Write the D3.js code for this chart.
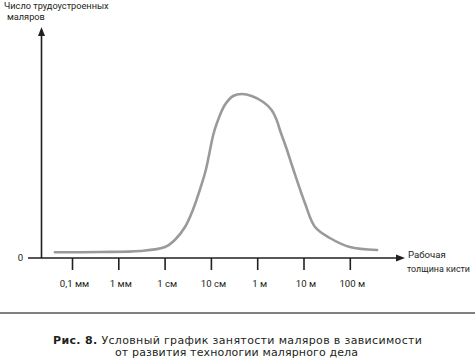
<!DOCTYPE html>
<html><head><meta charset="utf-8">
<script src="https://cdn.jsdelivr.net/npm/d3@7"></script>
<style>
html,body{margin:0;padding:0;background:#fff;}
svg{display:block;}
text{font-family:Roboto,"Open Sans",sans-serif;fill:#231f20;}
</style></head>
<body>
<svg id="c" width="475" height="361"></svg>
<script>
// Brush thickness, log10 of metres
const tickValues = [-4, -3, -2, -1, 0, 1, 2];
const tickLabels = ["0,1 мм", "1 мм", "1 см", "10 см", "1 м", "10 м", "100 м"];
// Curve: x = log10(thickness in m), y = employed painters (arbitrary units)
const curveX = [-4.37, -3.40, -2.53, -1.99, -1.78, -1.56, -1.39, -1.24, -1.11, -0.95, -0.87, -0.70, -0.52, -0.33, -0.12, 0.13, 0.31, 0.42, 0.49, 0.64, 0.77, 1.03, 1.25, 1.57, 2.00, 2.59];
const curveY = [5.7, 6, 7, 11, 18, 31, 48, 68, 88, 123, 135, 153, 162, 164, 162, 156, 148, 138, 128, 108.5, 90, 55, 31, 20, 11, 8];
const yTitle = ["Число трудоустроенных", "маляров"];
const xTitle = ["Рабочая", "толщина кисти"];
const zeroLabel = "0";
const captionBold = "Рис. 8.";
const captionRest = " Условный график занятости маляров в зависимости";
const captionLine2 = "от развития технологии малярного дела";

const svg = d3.select("#c");
const x = d3.scaleLinear().domain([-4, 2]).range([72, 349.8]);
const y = d3.scaleLinear().domain([0, 230]).range([258, 28]);

const ink = "#231f20";
const fs = "9.6px";

// y axis line with arrow
svg.append("line").attr("x1", 41.5).attr("x2", 41.5).attr("y1", y(0)).attr("y2", 34)
  .attr("stroke", ink).attr("stroke-width", 1.6);
svg.append("path").attr("d", "M41.5,27 L38,36 L45,36 Z").attr("fill", ink);

// x axis line with arrow
svg.append("line").attr("x1", 28).attr("x2", 398).attr("y1", y(0)).attr("y2", y(0))
  .attr("stroke", ink).attr("stroke-width", 1.6);
svg.append("path").attr("d", `M405,${y(0)} L396,${y(0)-3.5} L396,${y(0)+3.5} Z`).attr("fill", ink);

// ticks via d3 axis
const ax = svg.append("g").attr("transform", `translate(0,${y(0)})`)
  .call(d3.axisBottom(x).tickValues(tickValues).tickSize(12)
    .tickFormat((d, i) => tickLabels[i]));
ax.select(".domain").remove();
ax.selectAll(".tick line").attr("stroke", ink).attr("stroke-width", 1.6);
ax.selectAll(".tick text").attr("y", 29).attr("dy", 0).attr("x", 2)
  .style("font-size", fs).style("font-family", 'Roboto,sans-serif').attr("fill", ink);

// zero label
svg.append("text").attr("x", 20.5).attr("y", 261).attr("text-anchor", "middle")
  .style("font-size", fs).text(zeroLabel);

// y title
svg.append("text").attr("x", 4).attr("y", 9).style("font-size", "9.2px").text(yTitle[0]);
svg.append("text").attr("x", 7).attr("y", 19.5).style("font-size", "9.2px").text(yTitle[1]);

// x title
svg.append("text").attr("x", 408).attr("y", 258).style("font-size", fs).text(xTitle[0]);
svg.append("text").attr("x", 407).attr("y", 272).style("font-size", fs)
  .attr("textLength", 63).attr("lengthAdjust", "spacingAndGlyphs").text(xTitle[1]);

// curve
const pts = curveX.map((d, i) => [d, curveY[i]]);
svg.append("path").datum(pts)
  .attr("d", d3.line().x(d => x(d[0])).y(d => y(d[1])).curve(d3.curveCatmullRom.alpha(0.5)))
  .attr("fill", "none").attr("stroke", "#999a9c").attr("stroke-width", 2.6)
  .attr("stroke-linecap", "round");

// separator
svg.append("line").attr("x1", 0).attr("x2", 475).attr("y1", 313).attr("y2", 313)
  .attr("stroke", "#808080").attr("stroke-width", 2);

// caption
const cap = svg.append("text").attr("x", 53).attr("y", 343.5)
  .attr("textLength", 369).attr("lengthAdjust", "spacing")
  .style("font-size", "11px").style("font-family", '"DejaVu Sans",sans-serif');
cap.append("tspan").style("font-weight", "bold").text(captionBold);
cap.append("tspan").text(captionRest);
svg.append("text").attr("x", 115).attr("y", 356)
  .attr("textLength", 243).attr("lengthAdjust", "spacing")
  .style("font-size", "11px").style("font-family", '"DejaVu Sans",sans-serif').text(captionLine2);
</script>
</body></html>
